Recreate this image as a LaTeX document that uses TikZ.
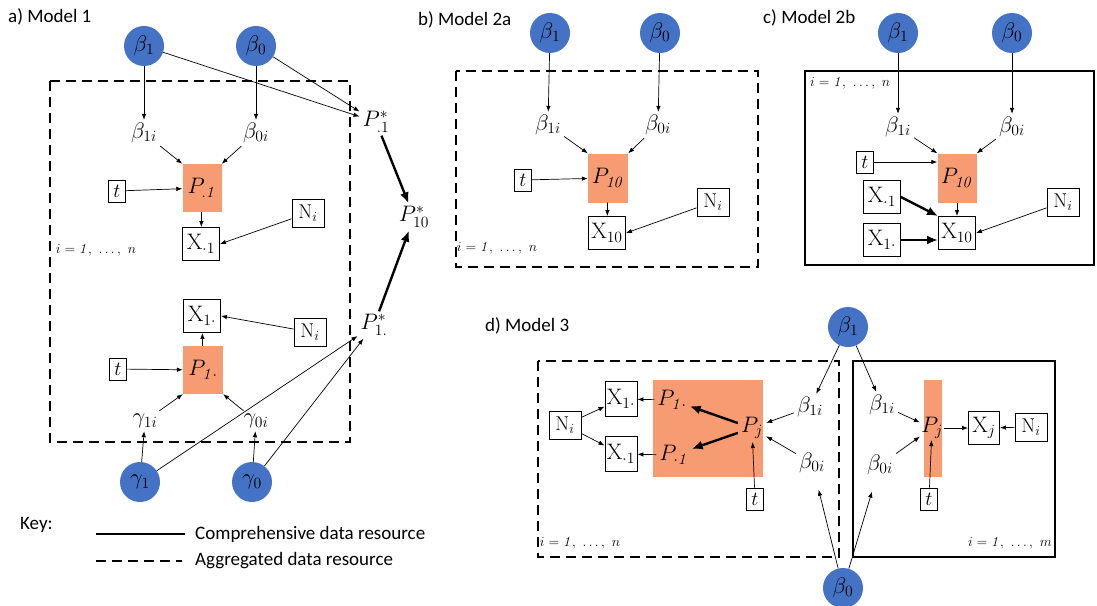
\RequirePackage{fix-cm}
\documentclass[tikz,border=0pt]{standalone}
\usepackage[no-math]{fontspec}
\usepackage{graphicx}
\newfontfamily\calfont{Carlito}
\newcommand{\lbl}[1]{\scalebox{1.12}{$#1$}}
\usetikzlibrary{arrows.meta}
\definecolor{pblue}{RGB}{68,114,196}
\definecolor{porange}{RGB}{247,155,115}
\tikzset{
  param/.style={circle, fill=pblue, minimum size=40pt, inner sep=0pt, text=black, font=\fontsize{20}{22}\selectfont},
  lab/.style={inner sep=3pt, font=\fontsize{20}{22}\selectfont},
  obs/.style={draw, line width=0.9pt, fill=white, inner sep=1pt, font=\fontsize{20}{22}\selectfont},
  tbox/.style={obs, minimum width=17pt, minimum height=22pt},
  nbox/.style={obs, minimum width=32pt, minimum height=28pt},
  xbox/.style={obs, minimum width=37pt, minimum height=33pt},
  pbox/.style={fill=porange, inner sep=0pt, font=\fontsize{20}{22}\selectfont},
  arr/.style={-{Latex[length=6pt,width=4.5pt]}, line width=0.7pt},
  thickarr/.style={-{Latex[length=11pt,width=9pt]}, line width=2.4pt},
  agg/.style={dash pattern=on 10pt off 6pt, line width=2.4pt},
  comp/.style={line width=2.6pt},
  paneltitle/.style={anchor=west, inner sep=0pt, font=\calfont\fontsize{19}{22}\selectfont},
  idx/.style={inner sep=0pt, font=\fontsize{14}{16}\selectfont},
  keytext/.style={anchor=west, inner sep=0pt, font=\calfont\fontsize{19}{22}\selectfont},
}
\begin{document}
\begin{tikzpicture}[x=1pt, y=-1pt]
\useasboundingbox (0,0) rectangle (1097,605);

% ===== a) Model 1 =====
\node[paneltitle] (ta) at (8,17) {a) Model 1};
\draw[agg] (50,81) rectangle (350,442);
\node[param] (m1b1) at (144,46) {\lbl{\beta_1}};
\node[param] (m1b0) at (256,46) {\lbl{\beta_0}};
\node[lab] (m1b1i) at (144,133) {\lbl{\beta_{1i}}};
\node[lab] (m1b0i) at (256,133) {\lbl{\beta_{0i}}};
\node[pbox, minimum width=39pt, minimum height=48pt] (m1P1) at (202,188) {\lbl{P_{.\mathit{1}}}};
\node[tbox] (m1t1) at (117,191) {$t$};
\node[nbox] (m1N1) at (308,213) {$\mathrm{N}_i$};
\node[xbox] (m1X1) at (201,244) {\lbl{\mathrm{X}_{\cdot 1}}};
\node[idx] (m1idx) at (96,250) {$i = \mathit{1},\ \ldots,\ n$};
\node[lab] (m1Ps1) at (376,122) {\lbl{P^*_{.1}}};
\node[lab] (m1Ps10) at (414,217) {\lbl{P^*_{10}}};
\node[xbox] (m1X2) at (202,316) {\lbl{\mathrm{X}_{1\cdot}}};
\node[nbox] (m1N2) at (310,332) {$\mathrm{N}_i$};
\node[pbox, minimum width=40pt, minimum height=48pt] (m1P2) at (203,370) {\lbl{P_{\mathit{1}\cdot}}};
\node[tbox] (m1t2) at (118,369) {$t$};
\node[lab] (m1g1i) at (145,421) {\lbl{\gamma_{1i}}};
\node[lab] (m1g0i) at (256,421) {\lbl{\gamma_{0i}}};
\node[param] (m1g1) at (140,482) {\lbl{\gamma_1}};
\node[param] (m1g0) at (252,482) {\lbl{\gamma_0}};
\node[lab] (m1Ps2) at (374,325) {\lbl{P^*_{1.}}};

\draw[arr] (m1b1) -- (m1b1i);
\draw[arr] (m1b0) -- (m1b0i);
\draw[arr] (m1b1i) -- (m1P1.north west);
\draw[arr] (m1b0i) -- (m1P1.north east);
\draw[arr] (m1t1) -- (m1P1);
\draw[arr] (m1P1) -- (m1X1);
\draw[arr] (m1N1) -- (m1X1.east);
\draw[arr] (m1b1) -- (m1Ps1);
\draw[arr] (m1b0) -- (m1Ps1);
\draw[thickarr] (m1Ps1) -- (m1Ps10);
\draw[arr] (m1N2) -- (m1X2.east);
\draw[arr] (m1P2) -- (m1X2);
\draw[arr] (m1t2) -- (m1P2);
\draw[arr] (m1g1i) -- (m1P2.south west);
\draw[arr] (m1g0i) -- (m1P2.south east);
\draw[arr] (m1g1) -- (m1g1i);
\draw[arr] (m1g0) -- (m1g0i);
\draw[arr] (m1g1) -- (m1Ps2);
\draw[arr] (m1g0) -- (m1Ps2);
\draw[thickarr] (m1Ps2) -- (m1Ps10);

% ===== b) Model 2a =====
\node[paneltitle] (tb) at (418,20) {b) Model 2a};
\draw[agg] (456,71) rectangle (758,267);
\node[param] (m2b1) at (550,33) {\lbl{\beta_1}};
\node[param] (m2b0) at (660,33) {\lbl{\beta_0}};
\node[lab] (m2b1i) at (548,125) {\lbl{\beta_{1i}}};
\node[lab] (m2b0i) at (658,125) {\lbl{\beta_{0i}}};
\node[pbox, minimum width=40pt, minimum height=49pt] (m2P) at (608,178) {\lbl{P_{\mathit{10}}}};
\node[tbox] (m2t) at (523,180) {$t$};
\node[nbox] (m2N) at (713,202) {$\mathrm{N}_i$};
\node[xbox] (m2X) at (607,233) {\lbl{\mathrm{X}_{10}}};
\node[idx] (m2idx) at (497,248) {$i = \mathit{1},\ \ldots,\ n$};
\draw[arr] (m2b1) -- (m2b1i);
\draw[arr] (m2b0) -- (m2b0i);
\draw[arr] (m2b1i) -- (m2P.north west);
\draw[arr] (m2b0i) -- (m2P.north east);
\draw[arr] (m2t) -- (m2P);
\draw[arr] (m2P) -- (m2X);
\draw[arr] (m2N) -- (m2X.east);

% ===== c) Model 2b =====
\node[paneltitle] (tc) at (763,18) {c) Model 2b};
\draw[comp] (805,71) rectangle (1094,265);
\node[param] (m3b1) at (898,33) {\lbl{\beta_1}};
\node[param] (m3b0) at (1012,33) {\lbl{\beta_0}};
\node[idx, anchor=west] (m3idx) at (810,83) {$i = \mathit{1},\ \ldots,\ n$};
\node[lab] (m3b1i) at (898,127) {\lbl{\beta_{1i}}};
\node[lab] (m3b0i) at (1012,127) {\lbl{\beta_{0i}}};
\node[pbox, minimum width=39pt, minimum height=49pt] (m3P) at (957,178) {\lbl{P_{\mathit{10}}}};
\node[tbox] (m3t) at (865,162) {$t$};
\node[xbox] (m3Xa) at (882,197) {\lbl{\mathrm{X}_{\cdot 1}}};
\node[xbox] (m3Xb) at (882,240) {\lbl{\mathrm{X}_{1\cdot}}};
\node[xbox] (m3X) at (957,233) {\lbl{\mathrm{X}_{10}}};
\node[nbox] (m3N) at (1063,202) {$\mathrm{N}_i$};
\draw[arr] (m3b1) -- (m3b1i);
\draw[arr] (m3b0) -- (m3b0i);
\draw[arr] (m3b1i) -- (m3P.north west);
\draw[arr] (m3b0i) -- (m3P.north east);
\draw[arr] (m3t) -- (m3P.west |- m3t);
\draw[arr] (m3P) -- (m3X);
\draw[arr] (m3N) -- (m3X.east);
\draw[thickarr] (m3Xa.east) -- (m3X.north west);
\draw[thickarr] (m3Xb) -- (m3X.west |- m3Xb);

% ===== d) Model 3 =====
\node[paneltitle] (td) at (485,326) {d) Model 3};
\draw[agg] (538,361) rectangle (839,557);
\draw[comp] (853,361) rectangle (1055,557);
\node[param] (m4b1) at (848,327) {\lbl{\beta_1}};
\node[param] (m4b0) at (843,588) {\lbl{\beta_0}};
\fill[porange] (653,380) rectangle (763,477);
\node[lab] (m4P1) at (672,400) {\lbl{P_{\mathit{1}\cdot}}};
\node[lab] (m4P2) at (674,455) {\lbl{P_{\cdot\mathit{1}}}};
\node[lab] (m4Pj) at (752,428) {\lbl{P_j}};
\node[obs, minimum width=32pt, minimum height=35pt] (m4Xa) at (621,399) {\lbl{\mathrm{X}_{1\cdot}}};
\node[obs, minimum width=32pt, minimum height=35pt] (m4Xb) at (621,454) {\lbl{\mathrm{X}_{\cdot 1}}};
\node[nbox] (m4N) at (565,425) {$\mathrm{N}_i$};
\node[lab] (m4b1i) at (810,407) {\lbl{\beta_{1i}}};
\node[lab] (m4b0i) at (812,463) {\lbl{\beta_{0i}}};
\node[tbox] (m4t) at (755,499) {$t$};
\node[idx] (m4idx) at (580,543) {$i = \mathit{1},\ \ldots,\ n$};
\draw[thickarr] (m4Pj) -- (m4P1);
\draw[thickarr] (m4Pj) -- (m4P2);
\draw[arr] (m4P1) -- (m4Xa);
\draw[arr] (m4P2) -- (m4Xb);
\draw[arr] (m4N) -- (m4Xa);
\draw[arr] (m4N) -- (m4Xb);
\draw[arr] (m4b1) -- (m4b1i);
\draw[arr] (m4b1i) -- (m4Pj);
\draw[arr] (m4b0i) -- (m4Pj);
\draw[arr] (m4t) -- (m4Pj);
\draw[arr, shorten >=14pt] (m4b0) -- (m4b0i);

\fill[porange] (924,380) rectangle (942,477);
\node[lab] (m5b1i) at (882,405) {\lbl{\beta_{1i}}};
\node[lab] (m5b0i) at (880,465) {\lbl{\beta_{0i}}};
\node[lab, inner sep=1pt] (m5Pj) at (932,428) {\lbl{P_j}};
\node[obs, minimum width=31pt, minimum height=33pt] (m5X) at (984,428) {\lbl{\mathrm{X}_j}};
\node[nbox] (m5N) at (1031,427) {$\mathrm{N}_i$};
\node[tbox] (m5t) at (929,499) {$t$};
\node[idx] (m5idx) at (1010,543) {$i = \mathit{1},\ \ldots,\ m$};
\draw[arr] (m4b1) -- (m5b1i);
\draw[arr] (m5b1i) -- (m5Pj);
\draw[arr] (m5b0i) -- (m5Pj);
\draw[arr] (m5t) -- (m5Pj);
\draw[arr] (m5Pj) -- (m5X);
\draw[arr] (m5N) -- (m5X);
\draw[arr, shorten >=14pt] (m4b0) -- (m5b0i);

% ===== Key =====
\node[keytext] (key) at (20,525) {Key:};
\coordinate (k1a) at (96,534);
\coordinate (k1b) at (185,534);
\coordinate (k2a) at (96,561);
\coordinate (k2b) at (182,561);
\draw[comp] (k1a) -- (k1b);
\draw[agg] (k2a) -- (k2b);
\node[keytext] (kt1) at (195,534) {Comprehensive data resource};
\node[keytext] (kt2) at (195,561) {Aggregated data resource};
\end{tikzpicture}
\end{document}
